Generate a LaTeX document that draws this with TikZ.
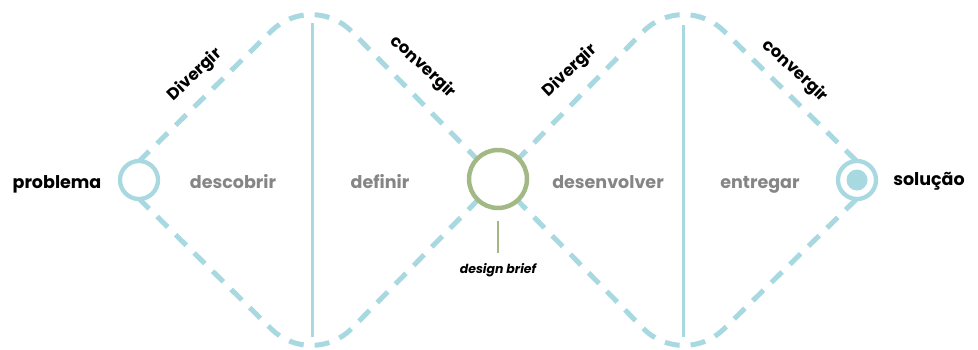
\documentclass[tikz,border=0pt]{standalone}
\usepackage{fontspec}
\setmainfont{Poppins}
\definecolor{wave}{HTML}{A8D8E0}
\definecolor{brief}{HTML}{A2B985}
\definecolor{phase}{HTML}{858585}
\begin{document}
\begin{tikzpicture}[x=1pt,y=-1pt,
  wavepath/.style={draw=wave, line width=5pt, dash pattern=on 15pt off 11pt, rounded corners=57pt},
  divider/.style={draw=wave, line width=3pt},
  ring/.style={circle, draw=wave, line width=4.3pt, fill=white, minimum size=38pt, inner sep=0pt},
  endlabel/.style={font=\bfseries\fontsize{17.5}{19}\selectfont, text=black, anchor=base},
  phaselabel/.style={font=\bfseries\fontsize{17.5}{19}\selectfont, text=phase, anchor=base},
  modelabel/.style={font=\bfseries\fontsize{16.5}{18}\selectfont, text=black, anchor=center},
  briefnote/.style={font=\bfseries\itshape\fontsize{12.5}{14}\selectfont, text=black, anchor=center}
]
\useasboundingbox (0,0) rectangle (978,349);

% vertices of the double diamond
\coordinate (L) at (120,180);
\coordinate (T1) at (312,-9);
\coordinate (B1) at (312,369);
\coordinate (M) at (497.5,180);
\coordinate (T2) at (683,-9);
\coordinate (B2) at (683,369);
\coordinate (R) at (876,180);

% dashed outlines
\draw[wavepath] (L) -- (T1) -- (M);
\draw[wavepath] (L) -- (B1) -- (M);
\draw[wavepath] (M) -- (T2) -- (R);
\draw[wavepath] (M) -- (B2) -- (R);

% phase dividers
\coordinate (d1t) at (312,23);
\coordinate (d1b) at (312,337);
\coordinate (d2t) at (683,25);
\coordinate (d2b) at (683,337);
\draw[divider] (d1t) -- (d1b);
\draw[divider] (d2t) -- (d2b);

% start, brief and end markers
\node[ring] (start) at (139,180) {};
\node[ring, draw=brief, line width=4.5pt, minimum size=58pt] (mid) at (498,179) {};
\node[ring] (finish) at (857,180) {};
\node[circle, fill=wave, minimum size=21pt, inner sep=0pt] (dot) at (finish) {};

% brief pointer
\coordinate (briefend) at (498,253);
\draw[brief, line width=2pt] (mid.south) ++(0,11) coordinate (briefstart) -- (briefend);
\node[briefnote] (brieftext) at (498,270) {design brief};

% end labels
\node[endlabel] (problema) at (57,188) {problema};
\node[endlabel] (solucao) at (929,185) {solução};

% phase labels
\node[phaselabel] (descobrir) at (233,188) {descobrir};
\node[phaselabel] (definir) at (380,188) {definir};
\node[phaselabel] (desenvolver) at (608,188) {desenvolver};
\node[phaselabel] (entregar) at (760,188) {entregar};

% mode labels along the diagonals
\node[modelabel, rotate=43] (div1) at (195,75) {Divergir};
\node[modelabel, rotate=-43] (con1) at (423,67) {convergir};
\node[modelabel, rotate=43] (div2) at (570,71) {Divergir};
\node[modelabel, rotate=-43] (con2) at (795,71) {convergir};
\end{tikzpicture}
\end{document}
